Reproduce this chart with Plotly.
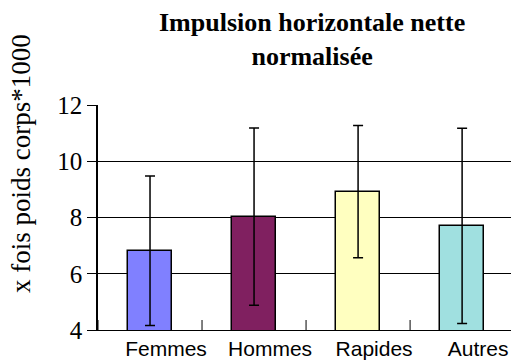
import plotly.graph_objects as go

# Net horizontal impulse, normalised (x body weight * 1000)
categories = ["Femmes", "Hommes", "Rapides", "Autres"]
means = [6.82, 8.03, 8.92, 7.70]
std_devs = [2.66, 3.15, 2.35, 3.47]
bar_colors = ["#8080FF", "#802060", "#FFFFC0", "#A0E0E0"]
y_ticks = [4, 6, 8, 10, 12]

x_pos = list(range(len(categories)))
boundaries = [i - 0.5 for i in range(len(categories))]

PLOT_TOP, PLOT_H = 105, 225

fig = go.Figure()
fig.add_trace(go.Bar(
    x=x_pos,
    y=means,
    width=0.42,
    marker=dict(color=bar_colors, line=dict(color="black", width=1.5)),
    error_y=dict(type="data", array=std_devs, visible=True,
                 color="black", thickness=1.5, width=5),
    showlegend=False,
))

# category divider ticks crossing the baseline
for b in boundaries:
    fig.add_shape(type="line", xref="x", yref="y",
                  xsizemode="scaled", ysizemode="pixel", yanchor=4,
                  x0=b, x1=b, y0=-8, y1=10,
                  line=dict(color="black", width=1))


def paper_y(px):
    """Convert a pixel row from the top of the figure to paper coords."""
    return (PLOT_TOP + PLOT_H - px) / PLOT_H


fig.update_layout(
    width=511, height=363,
    margin=dict(l=98, r=0, t=PLOT_TOP, b=363 - PLOT_TOP - PLOT_H),
    plot_bgcolor="white", paper_bgcolor="white",
    bargap=0,
    xaxis=dict(
        range=[-0.5, 3.47],
        tickvals=x_pos, ticktext=categories,
        ticks="", showgrid=False, zeroline=False,
        showline=True, linecolor="black", linewidth=1,
        tickfont=dict(family="Liberation Sans", size=21, color="black"),
        ticklabelshift=16,
    ),
    yaxis=dict(
        range=[4, 12], tickvals=y_ticks,
        ticks="outside", ticklen=9, tickcolor="black", tickwidth=1,
        showgrid=True, gridcolor="black", gridwidth=1,
        showline=True, linecolor="black", linewidth=1.5,
        zeroline=False,
        tickfont=dict(family="Liberation Serif", size=25, color="black"),
    ),
    annotations=[
        dict(
            text="<b>Impulsion horizontale nette</b><br><b>normalisée</b>",
            xref="paper", yref="paper",
            x=(312 - 98) / 413, xanchor="center",
            y=paper_y(6), yanchor="top",
            showarrow=False, align="center",
            font=dict(family="Liberation Serif", size=26, color="black"),
        ),
        dict(
            text="x fois poids corps*1000",
            textangle=-90,
            xref="paper", yref="paper",
            x=-77 / 413, xanchor="center",
            y=paper_y(164), yanchor="middle",
            showarrow=False,
            font=dict(family="Liberation Serif", size=27, color="black"),
        ),
    ],
)

fig.write_html("out.html")
